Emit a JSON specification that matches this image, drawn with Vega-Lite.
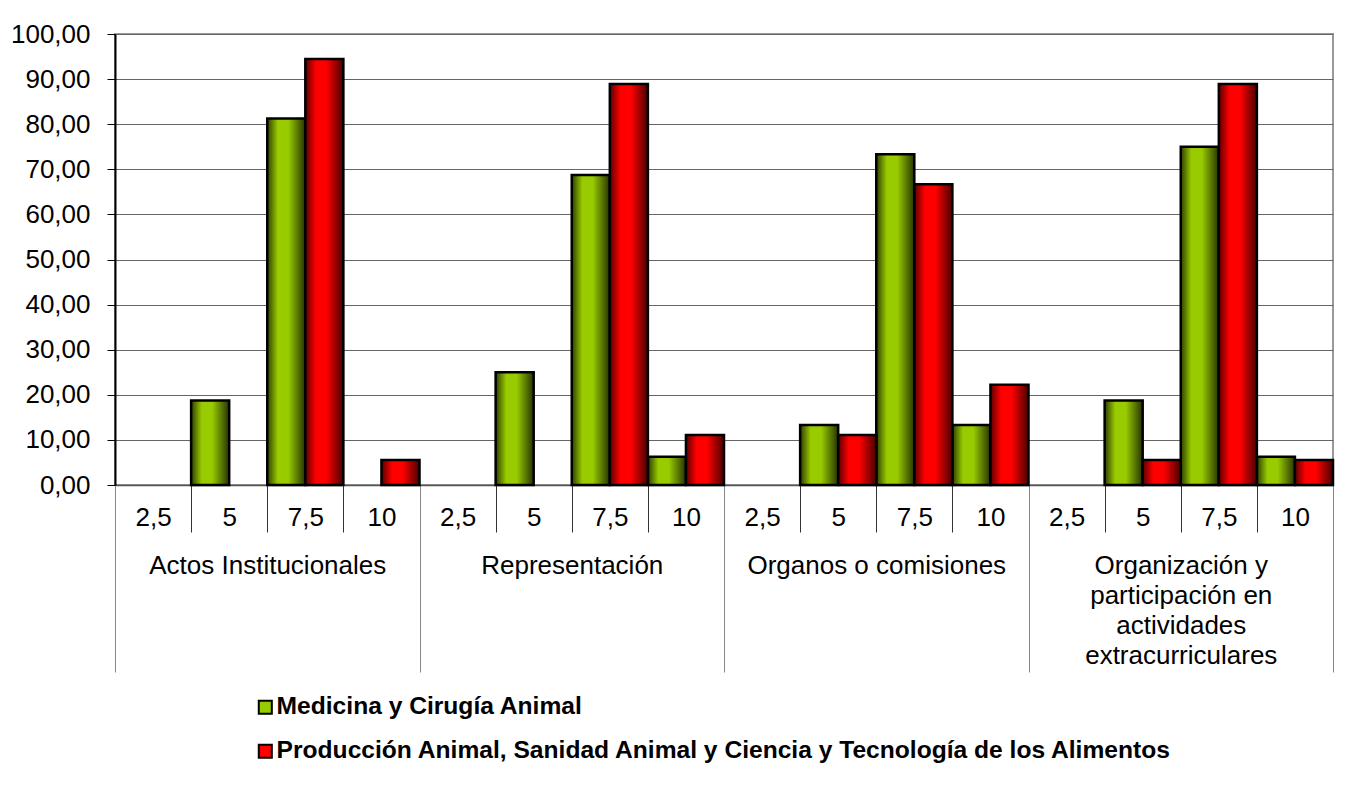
{
  "$schema": "https://vega.github.io/schema/vega-lite/v6.json",
  "width": 1218,
  "height": 451,
  "autosize": {"type": "none"},
  "padding": {"left": 115, "top": 34, "right": 30, "bottom": 314},
  "background": "white",
  "config": {
    "font": "Liberation Sans",
    "view": {"stroke": "#999999", "strokeWidth": 2},
    "axis": {"labelFont": "Liberation Sans", "labelColor": "#000000"}
  },
  "data": {
    "values": [
      {"cat": "Actos Institucionales", "sub": "5", "serie": "Medicina y Cirugía Animal", "v": 18.75},
      {"cat": "Actos Institucionales", "sub": "7,5", "serie": "Medicina y Cirugía Animal", "v": 81.25},
      {"cat": "Actos Institucionales", "sub": "7,5", "serie": "Producción Animal, Sanidad Animal y Ciencia y Tecnología de los Alimentos", "v": 94.44},
      {"cat": "Actos Institucionales", "sub": "10", "serie": "Producción Animal, Sanidad Animal y Ciencia y Tecnología de los Alimentos", "v": 5.56},
      {"cat": "Representación", "sub": "5", "serie": "Medicina y Cirugía Animal", "v": 25.0},
      {"cat": "Representación", "sub": "7,5", "serie": "Medicina y Cirugía Animal", "v": 68.75},
      {"cat": "Representación", "sub": "7,5", "serie": "Producción Animal, Sanidad Animal y Ciencia y Tecnología de los Alimentos", "v": 88.89},
      {"cat": "Representación", "sub": "10", "serie": "Medicina y Cirugía Animal", "v": 6.25},
      {"cat": "Representación", "sub": "10", "serie": "Producción Animal, Sanidad Animal y Ciencia y Tecnología de los Alimentos", "v": 11.11},
      {"cat": "Organos o comisiones", "sub": "5", "serie": "Medicina y Cirugía Animal", "v": 13.33},
      {"cat": "Organos o comisiones", "sub": "5", "serie": "Producción Animal, Sanidad Animal y Ciencia y Tecnología de los Alimentos", "v": 11.11},
      {"cat": "Organos o comisiones", "sub": "7,5", "serie": "Medicina y Cirugía Animal", "v": 73.33},
      {"cat": "Organos o comisiones", "sub": "7,5", "serie": "Producción Animal, Sanidad Animal y Ciencia y Tecnología de los Alimentos", "v": 66.67},
      {"cat": "Organos o comisiones", "sub": "10", "serie": "Medicina y Cirugía Animal", "v": 13.33},
      {"cat": "Organos o comisiones", "sub": "10", "serie": "Producción Animal, Sanidad Animal y Ciencia y Tecnología de los Alimentos", "v": 22.22},
      {"cat": "Organización y participación en actividades extracurriculares", "sub": "5", "serie": "Medicina y Cirugía Animal", "v": 18.75},
      {"cat": "Organización y participación en actividades extracurriculares", "sub": "5", "serie": "Producción Animal, Sanidad Animal y Ciencia y Tecnología de los Alimentos", "v": 5.56},
      {"cat": "Organización y participación en actividades extracurriculares", "sub": "7,5", "serie": "Medicina y Cirugía Animal", "v": 75.0},
      {"cat": "Organización y participación en actividades extracurriculares", "sub": "7,5", "serie": "Producción Animal, Sanidad Animal y Ciencia y Tecnología de los Alimentos", "v": 88.89},
      {"cat": "Organización y participación en actividades extracurriculares", "sub": "10", "serie": "Medicina y Cirugía Animal", "v": 6.25},
      {"cat": "Organización y participación en actividades extracurriculares", "sub": "10", "serie": "Producción Animal, Sanidad Animal y Ciencia y Tecnología de los Alimentos", "v": 5.56}
    ]
  },
  "transform": [{"calculate": "datum.cat + '|' + datum.sub", "as": "key"}],
  "layer": [
    {
      "encoding": {
        "x": {
          "field": "key",
          "type": "nominal",
          "scale": {
            "domain": [
              "Actos Institucionales|2,5", "Actos Institucionales|5", "Actos Institucionales|7,5", "Actos Institucionales|10",
              "Representación|2,5", "Representación|5", "Representación|7,5", "Representación|10",
              "Organos o comisiones|2,5", "Organos o comisiones|5", "Organos o comisiones|7,5", "Organos o comisiones|10",
              "Organización y participación en actividades extracurriculares|2,5", "Organización y participación en actividades extracurriculares|5", "Organización y participación en actividades extracurriculares|7,5", "Organización y participación en actividades extracurriculares|10"
            ],
            "paddingInner": 0,
            "paddingOuter": 0
          },
          "axis": {
            "orient": "bottom",
            "title": null,
            "labelExpr": "split(datum.value, '|')[1]",
            "labelAngle": 0,
            "labelFontSize": 26,
            "labelPadding": -28,
            "labelOverlap": false,
            "labelBound": false,
            "labelFlush": false,
            "tickBand": "extent",
            "tickSize": 47,
            "tickColor": "#333333",
            "tickWidth": 1,
            "domainColor": "#555555",
            "domainWidth": 1.5
          }
        },
        "xOffset": {
          "field": "serie",
          "type": "nominal",
          "scale": {
            "domain": ["Medicina y Cirugía Animal", "Producción Animal, Sanidad Animal y Ciencia y Tecnología de los Alimentos"],
            "paddingInner": 0,
            "paddingOuter": 0
          }
        },
        "y": {
          "field": "v",
          "type": "quantitative",
          "scale": {"domain": [0, 100], "nice": false},
          "axis": {
            "title": null,
            "values": [0, 10, 20, 30, 40, 50, 60, 70, 80, 90, 100],
            "labelExpr": "replace(format(datum.value, '.2f'), '.', ',')",
            "labelFontSize": 26,
            "labelPadding": 17,
            "tickSize": 8,
            "tickColor": "#000000",
            "domainColor": "#000000",
            "domainWidth": 2,
            "grid": true,
            "gridColor": "#666666",
            "gridWidth": 1
          }
        }
      },
      "layer": [
        {
          "transform": [{"filter": "datum.serie == 'Medicina y Cirugía Animal'"}],
          "mark": {
            "type": "bar",
            "stroke": "#000000",
            "strokeWidth": 2.5,
            "color": {"gradient": "linear", "x1": 0, "x2": 1, "y1": 0, "y2": 0, "stops": [
              {"offset": 0, "color": "#2e3d00"},
              {"offset": 0.28, "color": "#99cc00"},
              {"offset": 0.55, "color": "#99cc00"},
              {"offset": 1, "color": "#263300"}
            ]}
          }
        },
        {
          "transform": [{"filter": "datum.serie != 'Medicina y Cirugía Animal'"}],
          "mark": {
            "type": "bar",
            "stroke": "#000000",
            "strokeWidth": 2.5,
            "color": {"gradient": "linear", "x1": 0, "x2": 1, "y1": 0, "y2": 0, "stops": [
              {"offset": 0, "color": "#5a0000"},
              {"offset": 0.28, "color": "#ff0000"},
              {"offset": 0.55, "color": "#ff0000"},
              {"offset": 1, "color": "#4a0000"}
            ]}
          }
        },
        {
          "mark": {"type": "square", "opacity": 0, "filled": true},
          "encoding": {
            "color": {
              "field": "serie",
              "type": "nominal",
              "scale": {
                "domain": ["Medicina y Cirugía Animal", "Producción Animal, Sanidad Animal y Ciencia y Tecnología de los Alimentos"],
                "range": ["#99cc00", "#ff0000"]
              },
              "legend": {
                "title": null,
                "orient": "none",
                "legendX": 138,
                "legendY": 661,
                "direction": "vertical",
                "symbolType": "square",
                "symbolSize": 170,
                "symbolOpacity": 1,
                "symbolStrokeColor": "#000000",
                "symbolStrokeWidth": 2,
                "labelFontSize": 24.6,
                "labelFontWeight": "bold",
                "labelFont": "Liberation Sans",
                "labelColor": "#000000",
                "labelLimit": 1200,
                "labelOffset": -1,
                "rowPadding": 19,
                "padding": 0
              }
            }
          }
        }
      ]
    },
    {
      "mark": {"type": "rule", "opacity": 0},
      "encoding": {
        "x": {
          "field": "cat",
          "type": "nominal",
          "sort": ["Actos Institucionales", "Representación", "Organos o comisiones", "Organización y participación en actividades extracurriculares"],
          "scale": {"paddingInner": 0, "paddingOuter": 0},
          "axis": {
            "orient": "bottom",
            "title": null,
            "domain": false,
            "labelAngle": 0,
            "labelFontSize": 26,
            "labelLineHeight": 30,
            "labelPadding": -120,
            "labelLimit": 500,
            "labelOverlap": false,
            "labelBound": false,
            "labelFlush": false,
            "labelExpr": "datum.value == 'Organización y participación en actividades extracurriculares' ? ['Organización y', 'participación en', 'actividades', 'extracurriculares'] : datum.value",
            "tickBand": "extent",
            "tickSize": 187,
            "tickColor": "#888888",
            "tickWidth": 1
          }
        }
      }
    }
  ],
  "resolve": {"scale": {"x": "independent"}, "axis": {"x": "independent"}}
}
